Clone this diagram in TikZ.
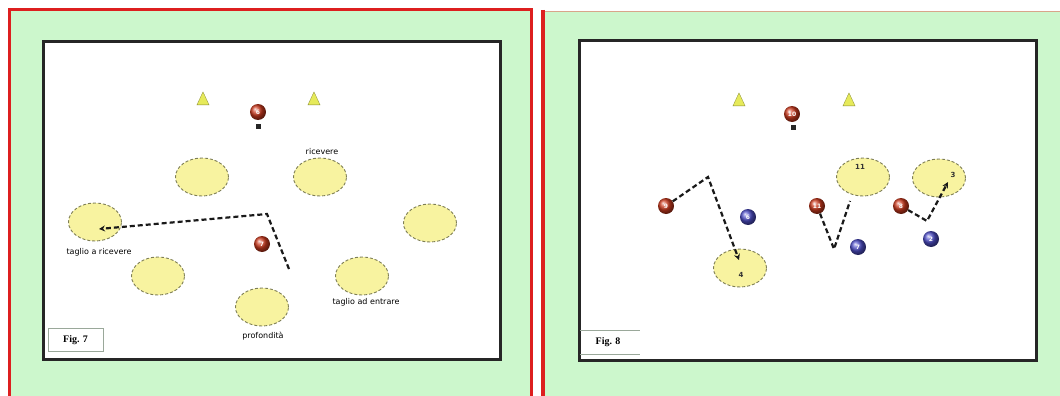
\documentclass[tikz,border=0pt]{standalone}
\usepackage{fontspec}
\setmainfont{Liberation Serif}
\setsansfont{DejaVu Sans}
\usetikzlibrary{shapes.geometric,arrows.meta}
\definecolor{mint}{HTML}{CCF7CC}
\definecolor{frame}{HTML}{DD1F1F}
\definecolor{tan}{HTML}{D9A58A}
\definecolor{zone}{HTML}{F8F3A0}
\definecolor{zoneb}{HTML}{7E7E55}
\definecolor{redp}{HTML}{CC3A1E}
\definecolor{bluep}{HTML}{4E4EC8}
\definecolor{conec}{HTML}{E6EA5A}
\definecolor{figb}{HTML}{9AA89A}
\begin{document}
\begin{tikzpicture}[x=1pt,y=-1pt,
  zonestyle/.style={ellipse, draw=zoneb, dashed, dash pattern=on 3pt off 2pt, line width=0.9pt, fill=zone, minimum width=53pt, minimum height=38pt, inner sep=0pt},
  redplayer/.style={circle, minimum size=16pt, inner sep=0pt, ball color=redp, text=white, font=\sffamily\bfseries\fontsize{6}{6}\selectfont},
  blueplayer/.style={circle, minimum size=16pt, inner sep=0pt, ball color=bluep, text=white, font=\sffamily\bfseries\fontsize{6}{6}\selectfont},
  ballmark/.style={rectangle, fill=black!85, minimum width=5pt, minimum height=5pt, inner sep=0pt},
  cone/.style={isosceles triangle, shape border rotate=90, isosceles triangle apex angle=50, fill=conec, draw=conec!60!black, line width=0.3pt, minimum height=13pt, minimum width=7pt, inner sep=0pt},
  lbl/.style={font=\sffamily\fontsize{8}{9}\selectfont, inner sep=0pt},
  zlbl/.style={font=\sffamily\bfseries\fontsize{7}{8}\selectfont, inner sep=0pt, text=black!80},
  move/.style={draw=black!90, line width=2.2pt, dash pattern=on 5pt off 3pt, -{Stealth[length=6pt,width=6pt]}},
  figlbl/.style={font=\bfseries\fontsize{10}{11}\selectfont, inner sep=0pt}
]
\useasboundingbox (0,0) rectangle (1060,396);
\fill[white] (0,0) rectangle (1060,396);
% left panel
\fill[mint] (10,11) rectangle (530,396);
\draw[frame, line width=3pt] (9,396) -- (9,10) -- (531,10) -- (531,396);
\draw[black!85, line width=3pt, fill=white] (43,42) rectangle (500,359);
% right panel
\fill[mint] (545,12) rectangle (1060,396);
\draw[tan, line width=1pt] (545,11.5) -- (1060,11.5);
\draw[frame, line width=4pt] (543,10) -- (543,396);
\draw[black!85, line width=3pt, fill=white] (579,41) rectangle (1036,360);

% ---------- Fig. 7 ----------
\node[cone] (c1) at (203,101) {};
\node[cone] (c2) at (314,101) {};
\node[redplayer] (p6) at (258,112) {6};
\node[ballmark] (b6) at (258,126) {};
\node[zonestyle] (z1) at (202,177) {};
\node[zonestyle] (z2) at (320,177) {};
\node[zonestyle] (z3) at (95,222) {};
\node[zonestyle] (z4) at (430,223) {};
\node[zonestyle] (z5) at (158,276) {};
\node[zonestyle] (z6) at (362,276) {};
\node[zonestyle] (z7) at (262,307) {};
\node[lbl] (l2) at (322,152) {ricevere};
\node[lbl] (l3) at (99,252) {taglio a ricevere};
\node[lbl] (l6) at (366,302) {taglio ad entrare};
\node[lbl] (l7) at (263,336) {profondità};
\node[redplayer] (p7) at (262,244) {7};
\coordinate (s7) at (289,269);
\coordinate (k7) at (267,214);
\coordinate (e7) at (99,229);
\draw[move] (s7) -- (k7) -- (e7);
\node[draw=figb, line width=0.6pt, fill=white, minimum width=55pt, minimum height=23pt] (f7) at (75.5,340) {};
\node[figlbl] (t7) at (f7) {Fig. 7};

% ---------- Fig. 8 ----------
\node[cone] (c3) at (739,102) {};
\node[cone] (c4) at (849,102) {};
\node[redplayer] (p10) at (792,114) {10};
\node[ballmark] (b10) at (793,127) {};
\node[zonestyle] (za) at (740,268) {};
\node[zlbl] (la) at (741,275) {4};
\node[zonestyle] (zb) at (863,177) {};
\node[zlbl] (lb) at (860,167) {11};
\node[zonestyle] (zc) at (939,178) {};
\node[zlbl] (lc) at (953,175) {3};
\node[redplayer] (p9) at (666,206) {9};
\node[blueplayer] (q6) at (748,217) {6};
\node[redplayer] (p11) at (817,206) {11};
\node[blueplayer] (q7) at (858,247) {7};
\node[redplayer] (p8) at (901,206) {8};
\node[blueplayer] (q2) at (931,239) {2};
\coordinate (k9) at (708,177);
\coordinate (e9) at (739,260);
\draw[move] (p9) -- (k9) -- (e9);
\coordinate (k11) at (834,249);
\coordinate (e11) at (850,201);
\draw[move, -] (p11) -- (k11) -- (e11);
\coordinate (k8) at (927,221);
\coordinate (e8) at (948,182);
\draw[move] (p8) -- (k8) -- (e8);
\draw[figb, line width=0.8pt] (580,330) -- (640,330) (580,354) -- (640,354);
\node[figlbl] (t8) at (608,342) {Fig. 8};
\end{tikzpicture}
\end{document}
